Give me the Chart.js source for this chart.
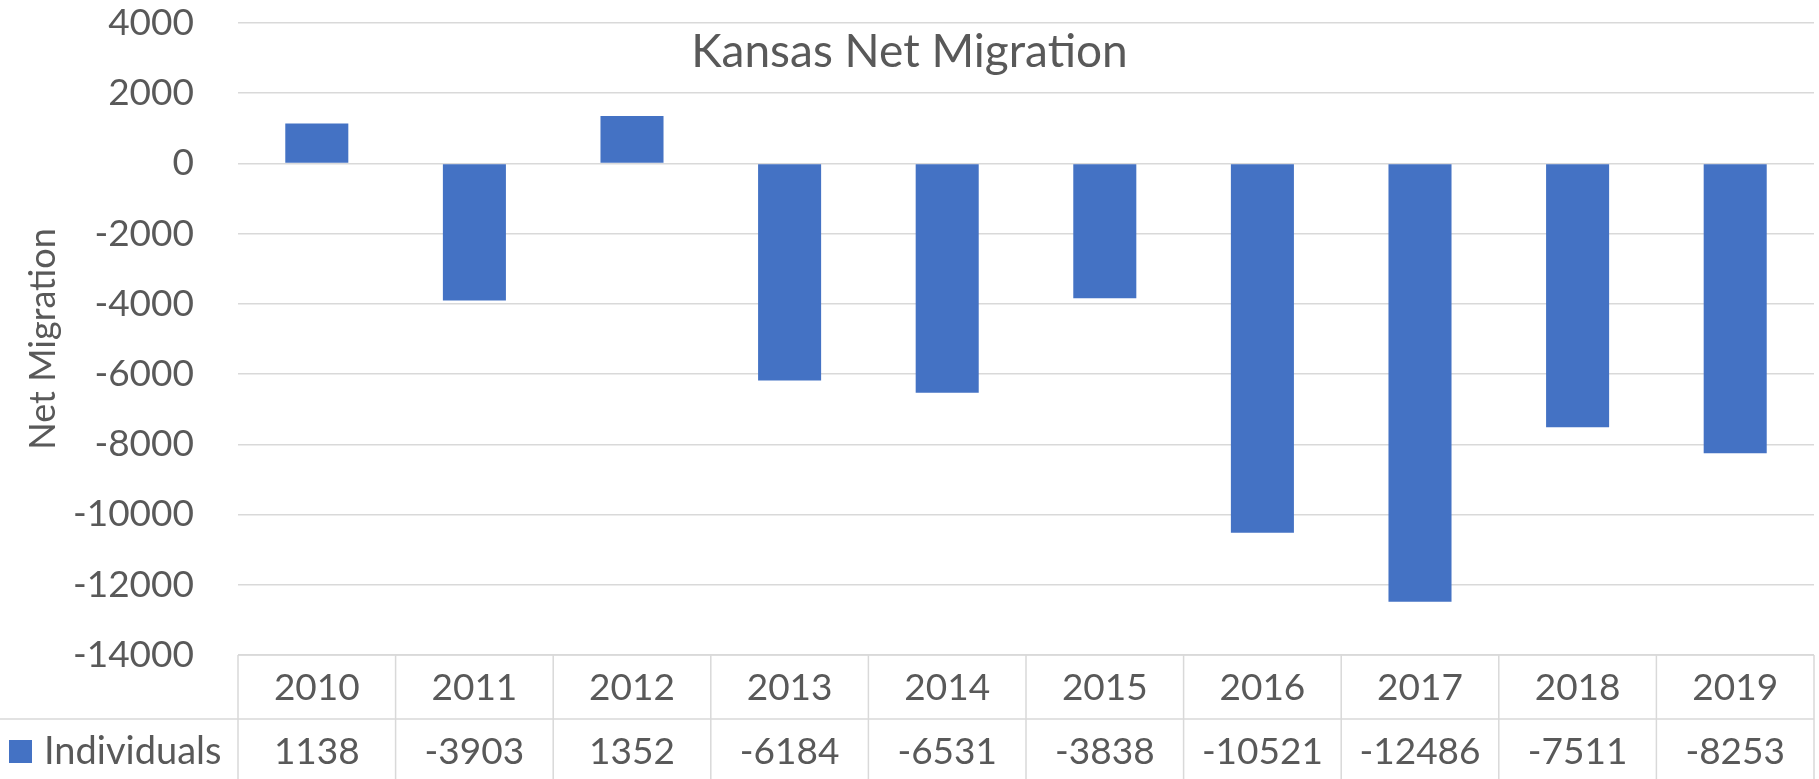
<!DOCTYPE html>
<html>
<head>
<meta charset="utf-8">
<title>Kansas Net Migration</title>
<script src="https://cdn.jsdelivr.net/npm/chart.js@4/dist/chart.umd.min.js"></script>
<style>
html,body{margin:0;padding:0;background:#fff;overflow:hidden;}
</style>
</head>
<body>
<canvas id="chart" width="1819" height="779"></canvas>
<script>
// DATA
const years = ["2010","2011","2012","2013","2014","2015","2016","2017","2018","2019"];
const individuals = [1138, -3903, 1352, -6184, -6531, -3838, -10521, -12486, -7511, -8253];
const seriesName = "Individuals";
const chartTitle = "Kansas Net Migration";
const yTitle = "Net Migration";
const yMin = -14000, yMax = 4000, yStep = 2000;

const textColor = '#595959';
const gridColor = '#d9d9d9';
const barColor = '#4472c4';
const fontFamily = 'Lato, "Open Sans", sans-serif';

// TITLE sits inside the plot, between the top gridlines
const titlePlugin = {
    id: 'insideTitle',
    afterDraw(chart){
        const ctx = chart.ctx;
        ctx.save();
        ctx.font = '46px ' + fontFamily;
        ctx.fillStyle = textColor;
        ctx.textAlign = 'center';
        ctx.textBaseline = 'middle';
        ctx.fillText(chartTitle, chart.width/2, 52);
        ctx.restore();
    }
};

// DATA TABLE under the plot (Excel style)
const tablePlugin = {
    id: 'dataTable',
    afterDraw(chart){
        const {ctx, chartArea:{left, right, bottom}} = chart;
        const x = chart.scales.x;
        const n = years.length;
        const colW = (right-left)/n;
        const rowH = 64;

        ctx.save();
        ctx.strokeStyle = gridColor;
        ctx.lineWidth = 1.5;
        ctx.beginPath();
        ctx.moveTo(left, bottom); ctx.lineTo(right, bottom);
        ctx.moveTo(0, bottom+rowH); ctx.lineTo(right, bottom+rowH);
        for(let i=0;i<=n;i++){
            const xx = left + i*colW;
            ctx.moveTo(xx, bottom); ctx.lineTo(xx, chart.height);
        }
        ctx.stroke();

        ctx.font = '37px ' + fontFamily;
        ctx.fillStyle = textColor;
        ctx.textAlign = 'center';
        ctx.textBaseline = 'middle';
        years.forEach((y,i)=>{
            const cx = x.getPixelForValue(i);
            ctx.fillText(y, cx, bottom + rowH/2 + 1);
            ctx.fillText(String(individuals[i]), cx, bottom + rowH*1.5 + 1);
        });

        // legend key + series name
        ctx.fillStyle = barColor;
        ctx.fillRect(9, bottom + rowH + 21, 23, 23);
        ctx.fillStyle = textColor;
        ctx.textAlign = 'left';
        ctx.font = '38px ' + fontFamily;
        ctx.fillText(seriesName, 44, bottom + rowH*1.5 + 1);
        ctx.restore();
    }
};

new Chart(document.getElementById('chart'), {
    type: 'bar',
    data: {
        labels: years,
        datasets: [{
            label: seriesName,
            data: individuals,
            backgroundColor: barColor,
            barPercentage: 0.4,
            categoryPercentage: 1
        }]
    },
    options: {
        responsive: false,
        animation: false,
        layout: { padding: { top: 23, bottom: 124, left: 0, right: 5 } },
        plugins: {
            legend: { display: false },
            tooltip: { enabled: false }
        },
        scales: {
            x: { display: false },
            y: {
                min: yMin,
                max: yMax,
                afterFit(scale){ scale.width = 238; },
                ticks: {
                    stepSize: yStep,
                    padding: 0,
                    color: textColor,
                    font: { family: fontFamily, size: 37 },
                    callback: v => String(v)
                },
                // invisible tick marks give the gap between labels and plot
                grid: { color: gridColor, lineWidth: 1.5, drawTicks: true, tickLength: 44, tickColor: 'rgba(0,0,0,0)' },
                border: { display: false },
                title: {
                    display: true,
                    text: yTitle,
                    color: textColor,
                    font: { family: fontFamily, size: 36 },
                    padding: { top: 22 }
                }
            }
        }
    },
    plugins: [titlePlugin, tablePlugin]
});
</script>
</body>
</html>
